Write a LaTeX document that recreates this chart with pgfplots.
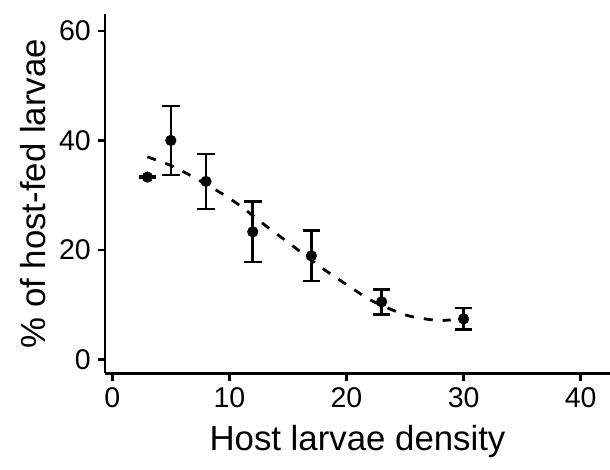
\documentclass[border=0pt]{standalone}
\usepackage{fontspec}
\setmainfont{Liberation Sans}
\usepackage{pgfplots}
\pgfplotsset{compat=1.18}

\begin{document}
\begin{tikzpicture}
\begin{axis}[
    scale only axis,
    width=252.5bp, height=179.5bp,
    xmin=-0.62, xmax=42.5,
    ymin=-2.56, ymax=63.05,
    axis x line*=bottom,
    axis y line*=left,
    axis line style={line width=1.3bp, black},
    xtick={0,10,20,30,40},
    ytick={0,20,40,60},
    tick align=outside,
    major tick length=3.6bp,
    tick style={line width=1.3bp, black},
    /pgf/number format/assume math mode=true,
    tick label style={font=\fontsize{14.25bp}{16bp}\selectfont},
    label style={font=\fontsize{17.4bp}{20bp}\selectfont},
    xlabel={Host larvae density},
    xlabel style={yshift=-2bp},
    ylabel={\% of host-fed larvae},
    clip=false,
]
\coordinate (bl) at (rel axis cs:0,0);

%% means with standard error bars
\addplot[only marks, mark=*, mark size=2.6bp, black,
    error bars/.cd, y dir=both, y explicit,
    error bar style={line width=1.3bp, black},
    error mark options={rotate=90, mark size=4.4bp, line width=1.3bp, black}]
    coordinates {
        (3,33.3)  +- (0,0.2)
        (5,40.0)  +- (0,6.3)
        (8,32.5)  +- (0,5.0)
        (12,23.3) +- (0,5.5)
        (17,18.9) +- (0,4.6)
        (23,10.5) +- (0,2.3)
        (30,7.4)  +- (0,2.0)
    };

%% fitted curve
\addplot[black, line width=1.4bp, dash pattern=on 4.5bp off 5bp, smooth]
    coordinates {
        (3.0,37.0)(4.9,35.5)(6.5,33.8)(8.0,32.0)(9.5,30.1)(10.9,28.1)
        (12.2,25.9)(13.6,23.6)(15.0,21.4)(16.4,19.1)(17.9,16.7)(19.2,14.8)
        (20.6,12.8)(22.0,10.9)(23.6,9.3)(25.2,8.0)(26.8,7.35)(28.0,7.1)
        (28.9,7.2)
    };
\end{axis}
\pgfresetboundingbox
\path[use as bounding box] (bl) ++(-52.5bp,-48.35bp) rectangle ++(305bp,235bp);
\end{tikzpicture}
\end{document}
